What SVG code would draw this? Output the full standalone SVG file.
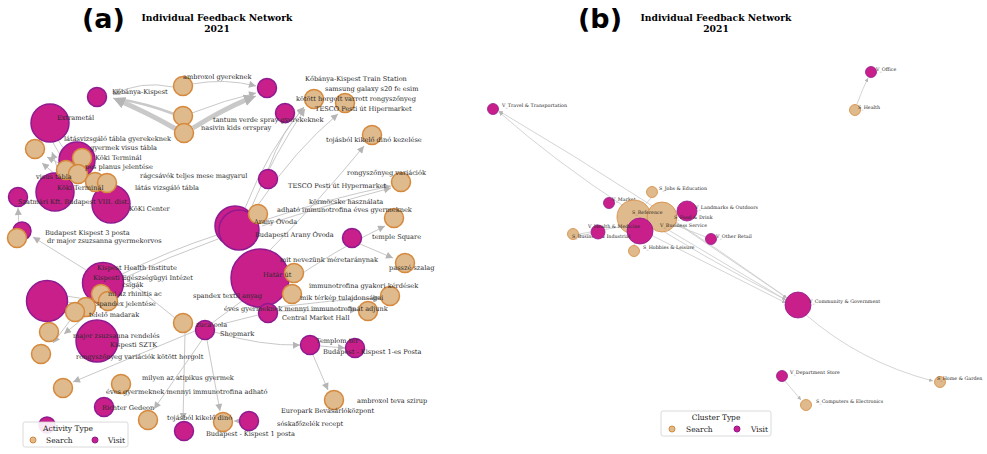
<svg xmlns="http://www.w3.org/2000/svg" width="987" height="454" viewBox="0 0 987 454">
<style>
.s{fill:#dfba8c;stroke:#d6893d;stroke-width:1.5}
.v{fill:#c91f8b;stroke:#8f1a90;stroke-width:1.5}
.e{fill:none;stroke:#c9c9c9;stroke-width:1}
.ea{fill:none;stroke:#c9c9c9;stroke-width:1;marker-end:url(#ah)}
.eb{fill:none;stroke:#c9c9c9;stroke-width:0.8;marker-end:url(#ahs)}
.t{font-family:"DejaVu Serif",serif;font-size:6.6px;fill:#2a2a2a}
.tb{font-family:"DejaVu Serif",serif;font-size:4.8px;fill:#2a2a2a}
.ti{font-family:"DejaVu Serif",serif;font-weight:bold;font-size:9.2px;fill:#000;text-anchor:middle}
.pl{font-family:"DejaVu Sans","Liberation Sans",sans-serif;font-weight:bold;font-size:27px;fill:#000}
.lg{font-family:"DejaVu Serif",serif;font-size:7.5px;fill:#222}
</style>
<defs>
<marker id="ah" viewBox="0 0 10 10" refX="10" refY="5" markerWidth="8" markerHeight="7" markerUnits="userSpaceOnUse" orient="auto"><path d="M0,0 L10,5 L0,10 z" fill="#b5b5b5"/></marker>
<marker id="ahb" viewBox="0 0 10 10" refX="10" refY="5" markerWidth="12" markerHeight="12" markerUnits="userSpaceOnUse" orient="auto"><path d="M0,0 L10,5 L0,10 z" fill="#b5b5b5"/></marker>
<marker id="ahs" viewBox="0 0 10 10" refX="10" refY="5" markerWidth="4" markerHeight="4" markerUnits="userSpaceOnUse" orient="auto"><path d="M0,0 L10,5 L0,10 z" fill="#b5b5b5"/></marker>
</defs>
<rect width="987" height="454" fill="#fff"/>

<text class="pl" x="82" y="28">(a)</text>
<text class="ti" x="217" y="21">Individual Feedback Network</text>
<text class="ti" x="217" y="32">2021</text>
<text class="pl" x="578" y="28">(b)</text>
<text class="ti" x="716" y="21">Individual Feedback Network</text>
<text class="ti" x="716" y="32">2021</text>

<g id="edges-a">
<path class="ea" d="M173,87 Q140,80 113,95"/>
<path class="e" d="M174,114 Q145,103 118,99" style="stroke-width:2.5"/>
<path class="e" d="M176,129 Q148,113 120,101" style="stroke-width:5"/>
<path class="e" d="M120,101 L113,98" style="stroke-width:1;marker-end:url(#ahb)"/>
<path class="ea" d="M192,84 Q225,78 256,86"/>
<path class="ea" d="M192,113 Q225,100 256,93"/>
<path class="e" d="M193,128 Q222,110 248,99" style="stroke-width:5"/>
<path class="e" d="M248,99 L256,96" style="marker-end:url(#ahb)"/>
<path class="ea" d="M245,208 Q268,150 304,107"/>
<path class="ea" d="M252,206 Q275,152 305,109"/>
<path class="ea" d="M258,205 Q295,150 338,114"/>
<path class="ea" d="M268,170 Q282,130 304,108"/>
<path class="ea" d="M270,250 Q320,200 364,146"/>
<path class="ea" d="M262,221 Q330,198 391,186"/>
<path class="ea" d="M262,226 Q330,204 391,188"/>
<path class="ea" d="M360,244 L393,258"/>
<path class="ea" d="M285,285 Q335,250 385,226"/>
<path class="ea" d="M278,311 L357,310"/>
<path class="ea" d="M278,307 Q330,300 380,298"/>
<path class="ea" d="M214,332 Q262,346 300,345"/>
<path class="ea" d="M320,346 L345,348"/>
<path class="ea" d="M313,355 L328,390"/>
<path class="ea" d="M202,340 L154,409"/>
<path class="ea" d="M185,333 L183,420"/>
<path class="ea" d="M207,340 L220,411"/>
<path class="ea" d="M239,421 L234,421"/>
<path class="ea" d="M195,331 L73,382"/>
<path class="e" d="M120,275 Q170,250 217,235"/>
<path class="e" d="M122,279 Q170,256 218,239"/>
<path class="ea" d="M86,270 L33,237"/>
<path class="ea" d="M19,228 L18,208"/>
<path class="ea" d="M60,176 L52,152"/>
<path class="ea" d="M68,168 L47,157"/>
<path class="ea" d="M62,180 L42,163"/>
<path class="e" d="M58,140 L70,158"/>
<path class="e" d="M52,141 L66,165"/>
<path class="e" d="M66,296 L92,300"/>
<path class="e" d="M66,302 L90,305"/>
<path class="ea" d="M72,318 L53,343"/>
<path class="ea" d="M86,316 L64,334"/>
<path class="e" d="M118,272 L175,318"/>
<path class="e" d="M214,326 L258,315"/>
<path class="e" d="M212,323 L250,295"/>
</g>

<g id="edges-b">
<path class="eb" d="M790,300 Q650,200 499,111"/>
<path class="eb" d="M790,302 Q610,210 499,112"/>
<path class="eb" d="M645,232 L786,303"/>
<path class="eb" d="M660,225 L786,300"/>
<path class="eb" d="M675,222 L787,298"/>
<path class="eb" d="M805,314 Q860,362 933,381"/>
<path class="eb" d="M785,381 L801,400"/>
<path class="eb" d="M857,104 Q862,90 868,78"/>
<path class="e" d="M579,234 L625,226" style="stroke-width:0.8"/>
<path class="e" d="M578,236 L600,232" style="stroke-width:0.8"/>
<path class="e" d="M651,198 L644,206" style="stroke-width:0.8"/>
<path class="e" d="M675,225 L706,237" style="stroke-width:0.8"/>
<path class="e" d="M636,234 L634,246" style="stroke-width:0.8"/>
</g>

<g id="nodes-a">
<g id="n-kobanya"><circle class="v" cx="97" cy="97" r="9.5"/></g>
<g id="n-extrametal"><circle class="v" cx="50" cy="123" r="19"/></g>
<g id="n-v267"><circle class="v" cx="267" cy="88" r="9.5"/></g>
<g id="n-v285"><circle class="v" cx="285" cy="113" r="9.5"/></g>
<g id="n-v268"><circle class="v" cx="268" cy="179" r="9.5"/></g>
<g id="n-ambroxol"><circle class="s" cx="183" cy="86" r="9.5"/></g>
<g id="n-s183"><circle class="s" cx="183" cy="116" r="9.5"/></g>
<g id="n-s184"><circle class="s" cx="184" cy="133" r="9.5"/></g>
<g id="n-s314"><circle class="s" cx="314" cy="99" r="9.5"/></g>
<g id="n-s345"><circle class="s" cx="345" cy="103" r="9.5"/></g>
<g id="n-s372"><circle class="s" cx="372" cy="135" r="9.5"/></g>
<g id="n-s35"><circle class="s" cx="35" cy="149" r="9.5"/></g>
<g id="n-koki1"><circle class="v" cx="77" cy="160" r="18"/></g>
<g id="n-koki2"><circle class="v" cx="55" cy="192" r="19"/></g>
<g id="n-kokicenter"><circle class="v" cx="111" cy="204" r="19"/></g>
<g id="n-s82"><circle class="s" cx="82" cy="158" r="9.5"/></g>
<g id="n-s66"><circle class="s" cx="66" cy="170" r="9.5"/></g>
<g id="n-s78"><circle class="s" cx="78" cy="174" r="9.5"/></g>
<g id="n-s95"><circle class="s" cx="95" cy="182" r="9.5"/></g>
<g id="n-s107"><circle class="s" cx="107" cy="183" r="9.5"/></g>
<g id="n-szatmari"><circle class="v" cx="18" cy="197" r="9.5"/></g>
<g id="n-v22"><circle class="v" cx="22" cy="231" r="9"/></g>
<g id="n-s17"><circle class="s" cx="17" cy="238" r="9.5"/></g>
<g id="n-arany1"><circle class="v" cx="235" cy="226" r="20"/></g>
<g id="n-arany2"><circle class="v" cx="239" cy="230" r="20"/></g>
<g id="n-s258"><circle class="s" cx="258" cy="214" r="9.5"/></g>
<g id="n-s402"><circle class="s" cx="401" cy="182" r="9.5"/></g>
<g id="n-s394"><circle class="s" cx="394" cy="218" r="9.5"/></g>
<g id="n-v352"><circle class="v" cx="352" cy="238" r="9.5"/></g>
<g id="n-s405"><circle class="s" cx="405" cy="263" r="9.5"/></g>
<g id="n-hatar"><circle class="v" cx="260" cy="278" r="29"/></g>
<g id="n-s294"><circle class="s" cx="294" cy="273" r="9.5"/></g>
<g id="n-s292"><circle class="s" cx="292" cy="294" r="9.5"/></g>
<g id="n-s390"><circle class="s" cx="390" cy="296" r="9.5"/></g>
<g id="n-s368"><circle class="s" cx="368" cy="311" r="9.5"/></g>
<g id="n-central"><circle class="v" cx="268" cy="313" r="9.5"/></g>
<g id="n-health"><circle class="v" cx="103" cy="283" r="20.5"/></g>
<g id="n-v47"><circle class="v" cx="47" cy="301" r="20.5"/></g>
<g id="n-s101"><circle class="s" cx="101" cy="294" r="9.5"/></g>
<g id="n-s108"><circle class="s" cx="108" cy="301" r="9.5"/></g>
<g id="n-s86"><circle class="s" cx="86" cy="307" r="9.5"/></g>
<g id="n-s75"><circle class="s" cx="75" cy="312" r="9.5"/></g>
<g id="n-sztk"><circle class="v" cx="97" cy="341" r="21"/></g>
<g id="n-s49"><circle class="s" cx="49" cy="332" r="9.5"/></g>
<g id="n-s41"><circle class="s" cx="41" cy="354" r="9.5"/></g>
<g id="n-s183b"><circle class="s" cx="183" cy="323" r="9.5"/></g>
<g id="n-shopmark"><circle class="v" cx="205" cy="330" r="9.5"/></g>
<g id="n-templom"><circle class="v" cx="310" cy="345" r="9.5"/></g>
<g id="n-posta1es"><circle class="v" cx="355" cy="348" r="9.5"/></g>
<g id="n-s63"><circle class="s" cx="63" cy="388" r="9.5"/></g>
<g id="n-s121"><circle class="s" cx="121" cy="384" r="9.5"/></g>
<g id="n-richter"><circle class="v" cx="104" cy="407" r="9.5"/></g>
<g id="n-s148"><circle class="s" cx="148" cy="420" r="9.5"/></g>
<g id="n-v184"><circle class="v" cx="184" cy="431" r="9.5"/></g>
<g id="n-s224"><circle class="s" cx="223" cy="422" r="9.5"/></g>
<g id="n-v249"><circle class="v" cx="249" cy="421" r="9.5"/></g>
<g id="n-s334"><circle class="s" cx="334" cy="400" r="9.5"/></g>
<g id="n-v47b"><circle class="v" cx="47" cy="425" r="8"/></g>
</g>

<g id="labels-a">
<text class="t" x="183" y="79">ambroxol gyereknek</text>
<text class="t" x="112" y="94">Kőbánya-Kispest</text>
<text class="t" x="305" y="81">Kőbánya-Kispest Train Station</text>
<text class="t" x="325" y="91">samsung galaxy s20 fe esim</text>
<text class="t" x="296" y="101">kötött horgolt varrott rongyszőnyeg</text>
<text class="t" x="315" y="111">TESCO Pesti út Hipermarket</text>
<text class="t" x="57" y="120">Extrametál</text>
<text class="t" x="213" y="122">tantum verde spray gyerekeknek</text>
<text class="t" x="201" y="130">nasivin kids orrspray</text>
<text class="t" x="326" y="142">tojásból kikelő dinó kezelése</text>
<text class="t" x="64" y="141">látásvizsgáló tábla gyerekeknek</text>
<text class="t" x="90" y="150">gyermek visus tábla</text>
<text class="t" x="95" y="160">Köki Terminál</text>
<text class="t" x="85" y="169">pes planus jelentése</text>
<text class="t" x="140" y="178">rágcsávók teljes mese magyarul</text>
<text class="t" x="36" y="179">visus tábla</text>
<text class="t" x="57" y="190">Köki Terminál</text>
<text class="t" x="135" y="190">látás vizsgáló tábla</text>
<text class="t" x="347" y="175">rongyszőnyeg variációk</text>
<text class="t" x="288" y="188">TESCO Pesti út Hypermarket</text>
<text class="t" x="18" y="204">Szatmári Kft. Budapest VIII. dist.</text>
<text class="t" x="129" y="211">KöKi Center</text>
<text class="t" x="309" y="204">körmöcske használata</text>
<text class="t" x="277" y="212">adható immunotrofina éves gyermeknek</text>
<text class="t" x="254" y="224">Arany Óvoda</text>
<text class="t" x="45" y="235">Budapest Kispest 3 posta</text>
<text class="t" x="47" y="243">dr major zsuzsanna gyermekorvos</text>
<text class="t" x="255" y="237">Budapesti Arany Óvoda</text>
<text class="t" x="372" y="239">temple Square</text>
<text class="t" x="280" y="262">mit nevezünk méretaránynak</text>
<text class="t" x="389" y="270">passzé szalag</text>
<text class="t" x="263" y="277">Határ út</text>
<text class="t" x="97" y="270">Kispest Health Institute</text>
<text class="t" x="93" y="280">Kispesti Egészségügyi Intézet</text>
<text class="t" x="122" y="287">csigák</text>
<text class="t" x="309" y="288">immunotrofina gyakori kérdések</text>
<text class="t" x="108" y="296">mi az rhinitis ac</text>
<text class="t" x="193" y="298">spandex textil anyag</text>
<text class="t" x="300" y="300">mik térkép tulajdonságai</text>
<text class="t" x="96" y="306">spandex jelentése</text>
<text class="t" x="224" y="311">éves gyermeknek mennyi immunotrofinát adjunk</text>
<text class="t" x="89" y="317">telelő madarak</text>
<text class="t" x="282" y="320">Central Market Hall</text>
<text class="t" x="196" y="327">zuca cola</text>
<text class="t" x="220" y="336">Shopmark</text>
<text class="t" x="73" y="338">major zsuzsanna rendelés</text>
<text class="t" x="110" y="347">Kispesti SZTK</text>
<text class="t" x="316" y="343">Templom tér</text>
<text class="t" x="323" y="354">Budapest - Kispest 1-es Posta</text>
<text class="t" x="76" y="359">rongyszőnyeg variációk kötött horgolt</text>
<text class="t" x="142" y="380">milyen az atipikus gyermek</text>
<text class="t" x="106" y="394">éves gyermeknek mennyi immunotrofina adható</text>
<text class="t" x="357" y="403">ambroxol teva szirup</text>
<text class="t" x="102" y="410">Richter Gedeon</text>
<text class="t" x="281" y="413">Europark Bevásárlóközpont</text>
<text class="t" x="167" y="420">tojásból kikelő dinó</text>
<text class="t" x="277" y="426">sóskafőzelék recept</text>
<text class="t" x="206" y="436">Budapest - Kispest 1 posta</text>
</g>

<g id="legend-a">
<rect x="23" y="422" width="105" height="25" rx="2" fill="#fff" fill-opacity="0.9" stroke="#d0d0d0" stroke-width="0.8"/>
<text class="lg" x="68" y="431" text-anchor="middle">Activity Type</text>
<circle class="s" cx="33" cy="440" r="3" style="stroke-width:1"/>
<text class="lg" x="46" y="443">Search</text>
<circle class="v" cx="95" cy="440" r="3" style="stroke-width:1"/>
<text class="lg" x="108" y="443">Visit</text>
</g>

<g id="nodes-b">
<g id="b-office"><circle class="v" cx="871" cy="72" r="5.5" style="stroke-width:0.8"/><text class="tb" x="876" y="71">V_Office</text></g>
<g id="b-health"><circle class="s" cx="855" cy="110" r="5.5" style="stroke-width:0.8"/><text class="tb" x="858" y="109">S_Health</text></g>
<g id="b-travel"><circle class="v" cx="493" cy="109" r="5.5" style="stroke-width:0.8"/><text class="tb" x="502" y="107">V_Travel &amp; Transportation</text></g>
<g id="b-jobs"><circle class="s" cx="652" cy="192" r="5.5" style="stroke-width:0.8"/><text class="tb" x="659" y="190">S_Jobs &amp; Education</text></g>
<g id="b-market"><circle class="v" cx="609" cy="203" r="5.5" style="stroke-width:0.8"/><text class="tb" x="612" y="201">V_Market</text></g>
<g id="b-reference"><circle class="s" cx="634" cy="217" r="17" style="stroke-width:0.8"/></g>
<g id="b-food"><circle class="s" cx="662" cy="217" r="15" style="stroke-width:0.8"/></g>
<g id="b-landmarks"><circle class="v" cx="687" cy="211" r="10" style="stroke-width:0.8"/><text class="tb" x="695" y="209">V_Landmarks &amp; Outdoors</text></g>
<g id="b-healthmed"><circle class="v" cx="640" cy="231" r="13" style="stroke-width:0.8"/></g>
<g id="b-business-ind"><circle class="s" cx="573" cy="234" r="5.5" style="stroke-width:0.8"/><text class="tb" x="572" y="238">S_Business &amp; Industrial</text></g>
<g id="b-vsmall"><circle class="v" cx="598" cy="232" r="7" style="stroke-width:0.8"/><text class="tb" x="588" y="228">V_Health &amp; Medicine</text></g>
<g id="b-hobbies"><circle class="s" cx="634" cy="251" r="5.5" style="stroke-width:0.8"/><text class="tb" x="643" y="249">S_Hobbies &amp; Leisure</text></g>
<g id="b-otherretail"><circle class="v" cx="711" cy="239" r="5.5" style="stroke-width:0.8"/><text class="tb" x="716" y="238">V_Other Retail</text></g>
<g id="b-community"><circle class="v" cx="798" cy="305" r="13" style="stroke-width:0.8"/><text class="tb" x="809" y="303">V_Community &amp; Government</text></g>
<g id="b-department"><circle class="v" cx="782" cy="376" r="5.5" style="stroke-width:0.8"/><text class="tb" x="790" y="374">V_Department Store</text></g>
<g id="b-computers"><circle class="s" cx="806" cy="405" r="5.5" style="stroke-width:0.8"/><text class="tb" x="816" y="403">S_Computers &amp; Electronics</text></g>
<g id="b-home"><circle class="s" cx="940" cy="382" r="5.5" style="stroke-width:0.8"/><text class="tb" x="937" y="380">S_Home &amp; Garden</text></g>
<text class="tb" x="632" y="214">S_Reference</text>
<text class="tb" x="674" y="219">S_Food &amp; Drink</text>
<text class="tb" x="660" y="227">V_Business Service</text>
</g>

<g id="legend-b">
<rect x="661" y="411" width="110" height="25" rx="2" fill="#fff" fill-opacity="0.9" stroke="#d0d0d0" stroke-width="0.8"/>
<text class="lg" x="716" y="420" text-anchor="middle">Cluster Type</text>
<circle class="s" cx="672" cy="429" r="3" style="stroke-width:1"/>
<text class="lg" x="686" y="432">Search</text>
<circle class="v" cx="737" cy="429" r="3" style="stroke-width:1"/>
<text class="lg" x="751" y="432">Visit</text>
</g>
</svg>
